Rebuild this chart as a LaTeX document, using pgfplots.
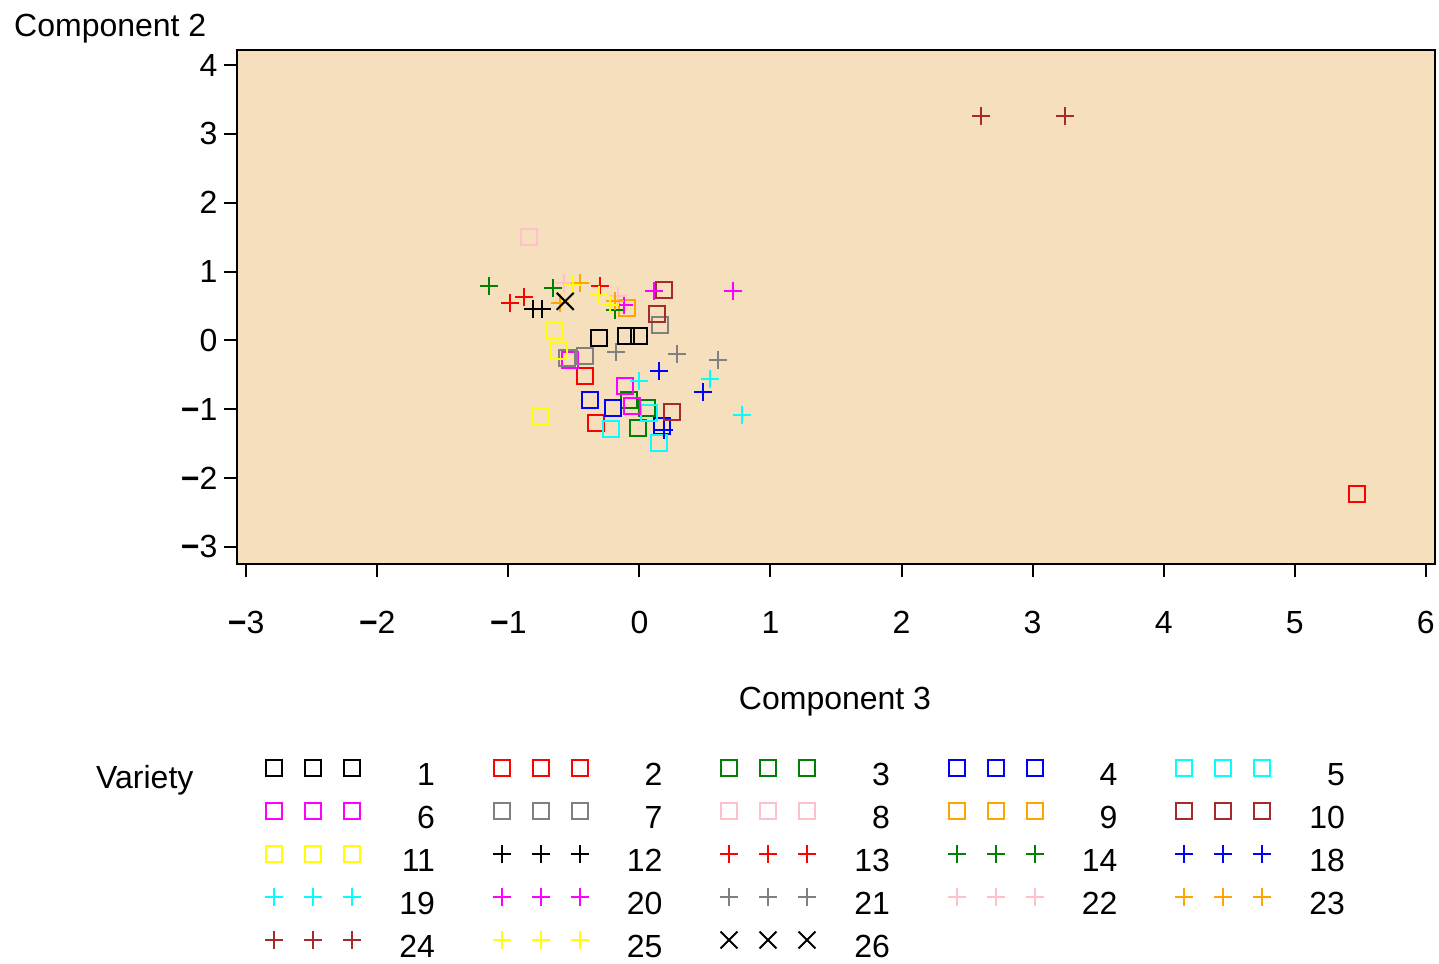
\documentclass[border=0pt]{standalone}
\usepackage{fontspec}
\setmainfont{Liberation Sans}
\usepackage{pgfplots}
\pgfplotsset{compat=1.18}
\definecolor{bgwheat}{RGB}{246,223,188}
\definecolor{cblack}{RGB}{0,0,0}
\definecolor{cred}{RGB}{255,0,0}
\definecolor{cgreen}{RGB}{0,128,0}
\definecolor{cblue}{RGB}{0,0,255}
\definecolor{ccyan}{RGB}{0,255,255}
\definecolor{cmagenta}{RGB}{255,0,255}
\definecolor{cgray}{RGB}{128,128,128}
\definecolor{cpink}{RGB}{255,192,203}
\definecolor{corange}{RGB}{255,165,0}
\definecolor{cbrown}{RGB}{165,42,42}
\definecolor{cyellow}{RGB}{255,255,0}
\newcommand{\fs}{\fontsize{32}{38}\selectfont}
\newcommand{\mn}{{\bfseries −}}
\newcommand{\LL}[1]{\raisebox{-17.5pt}{\makebox[74pt][r]{#1}}}
\begin{document}
\begin{tikzpicture}[x=1pt,y=1pt]
\useasboundingbox (0,0) rectangle (1439,963);
\begin{axis}[
  at={(237pt,399pt)}, anchor=south west,
  scale only axis, width=1198pt, height=514pt,
  xmin=-3.07, xmax=6.07, ymin=-3.25, ymax=4.22,
  axis background/.style={fill=bgwheat},
  axis line style={line width=2pt},
  every tick/.style={line width=2pt, black},
  tick align=outside, major tick length=13pt,
  xtick pos=left, ytick pos=left,
  xtick={-3,-2,-1,0,1,2,3,4,5,6},
  xticklabels={\mn3,\mn2,\mn1,0,1,2,3,4,5,6},
  ytick={-3,-2,-1,0,1,2,3,4},
  yticklabels={\mn3,\mn2,\mn1,0,1,2,3,4},
  tick label style={font=\fs},
  xticklabel style={yshift=-31pt},
  yticklabel style={xshift=-3pt},
  every axis plot/.append style={only marks, line width=2pt},
  legend image code/.code={\draw[#1,only marks] plot coordinates {(0pt,0pt) (39pt,0pt) (78pt,0pt)};},
  legend columns=5,
  legend cell align=left,
  legend style={at={(axis description cs:0.02337,-0.3677)}, anchor=north west,
    draw=none, fill=none, inner sep=0pt, outer sep=0pt,
    column sep=0pt, row sep=13pt, font=\fs,
    nodes={inner sep=0pt, outer sep=0pt, text height=15pt, text depth=15pt},
    /tikz/every even column/.append style={column sep=57.5pt}},
]
% 1
\addplot[cblack, mark=square, mark size=8pt] coordinates {(-0.307,0.035) (-0.103,0.068) (-0.002,0.068)};
% 2
\addplot[cred, mark=square, mark size=8pt] coordinates {(-0.414,-0.524) (-0.330,-1.202) (5.477,-2.233)};
% 3
\addplot[cgreen, mark=square, mark size=8pt] coordinates {(-0.083,-0.862) (0.057,-0.984) (-0.011,-1.274)};
% 4
\addplot[cblue, mark=square, mark size=8pt] coordinates {(-0.375,-0.862) (-0.198,-0.984) (0.172,-1.250)};
% 5
\addplot[ccyan, mark=square, mark size=8pt] coordinates {(0.077,-1.056) (-0.215,-1.289) (0.153,-1.492)};
% 6
\addplot[cmagenta, mark=square, mark size=8pt] coordinates {(-0.528,-0.281) (-0.108,-0.669) (-0.057,-0.960)};
% 7
\addplot[cgray, mark=square, mark size=8pt] coordinates {(-0.553,-0.256) (-0.414,-0.233) (0.154,0.228)};
% 8
\addplot[cpink, mark=square, mark size=8pt] coordinates {(-0.839,1.504)};
% 9
\addplot[corange, mark=square, mark size=8pt] coordinates {(-0.095,0.471)};
% 10
\addplot[cbrown, mark=square, mark size=8pt] coordinates {(0.189,0.727) (0.138,0.384) (0.248,-1.047)};
% 11
\addplot[cyellow, mark=square, mark size=8pt] coordinates {(-0.655,0.156) (-0.617,-0.160) (-0.749,-1.105)};
% 12
\addplot[cblack, mark=+, mark size=9pt] coordinates {(-0.813,0.456) (-0.744,0.456)};
% 13
\addplot[cred, mark=+, mark size=9pt] coordinates {(-0.986,0.544) (-0.877,0.631) (-0.299,0.785)};
% 14
\addplot[cgreen, mark=+, mark size=9pt] coordinates {(-1.151,0.785) (-0.660,0.762) (-0.185,0.446)};
% 18
\addplot[cblue, mark=+, mark size=9pt] coordinates {(0.153,-0.450) (0.489,-0.756) (0.184,-1.299)};
% 19
\addplot[ccyan, mark=+, mark size=9pt] coordinates {(0.000,-0.596) (0.540,-0.562) (0.782,-1.081)};
% 20
\addplot[cmagenta, mark=+, mark size=9pt] coordinates {(0.115,0.713) (0.713,0.713) (-0.121,0.519)};
% 21
\addplot[cgray, mark=+, mark size=9pt] coordinates {(-0.177,-0.169) (0.286,-0.198) (0.599,-0.281)};
% 22
\addplot[cpink, mark=+, mark size=9pt] coordinates {(-0.579,0.835) (-0.160,0.640)};
% 23
\addplot[corange, mark=+, mark size=9pt] coordinates {(-0.604,0.544) (-0.452,0.835) (-0.185,0.567)};
% 24
\addplot[cbrown, mark=+, mark size=9pt] coordinates {(2.608,3.268) (3.249,3.268)};
% 25
\addplot[cyellow, mark=+, mark size=9pt] coordinates {(-0.503,0.810) (-0.312,0.665) (-0.223,0.519)};
% 26
\addplot[cblack, mark=x, mark size=12pt] coordinates {(-0.566,0.567)};
\legend{\LL{1},\LL{2},\LL{3},\LL{4},\LL{5},\LL{6},\LL{7},\LL{8},\LL{9},\LL{10},\LL{11},\LL{12},\LL{13},\LL{14},\LL{18},\LL{19},\LL{20},\LL{21},\LL{22},\LL{23},\LL{24},\LL{25},\LL{26}}
\end{axis}
\node[anchor=base west, inner sep=0pt, font=\fs] at (14,926) {Component 2};
\node[anchor=base, inner sep=0pt, font=\fs] at (835,253) {Component 3};
\node[anchor=base west, inner sep=0pt, font=\fs] at (96,174) {Variety};
\end{tikzpicture}
\end{document}
